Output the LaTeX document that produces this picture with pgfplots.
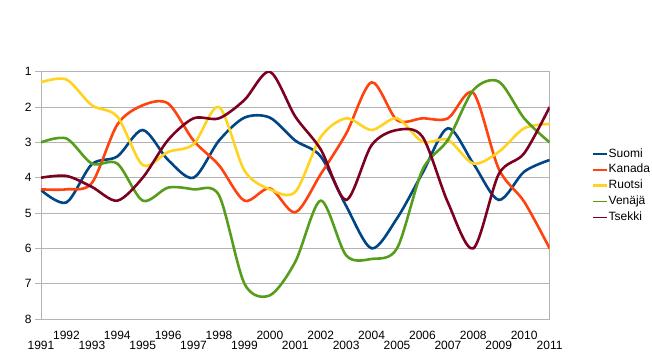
\documentclass[border=0pt]{standalone}
\usepackage{pgfplots}
\pgfplotsset{compat=1.18}
\usepackage{pgfplotstable}
\usepackage{fontspec}
\setmainfont{Liberation Sans}
\definecolor{cSuomi}{HTML}{004586}
\definecolor{cKanada}{HTML}{FF420E}
\definecolor{cRuotsi}{HTML}{FFD320}
\definecolor{cVenaja}{HTML}{579D1C}
\definecolor{cTsekki}{HTML}{7E0021}
\definecolor{gridgray}{HTML}{B3B3B3}
\pgfplotstableread{
year Suomi Kanada Ruotsi Venaja Tsekki
1991 4.35 4.33 1.30 3.00 4.00
1992 4.70 4.33 1.22 2.89 3.95
1993 3.62 4.15 1.95 3.60 4.26
1994 3.40 2.50 2.27 3.60 4.65
1995 2.65 1.95 3.64 4.65 4.00
1996 3.50 1.90 3.27 4.28 2.93
1997 4.00 2.95 3.05 4.33 2.32
1998 2.95 3.65 2.00 4.50 2.32
1999 2.30 4.65 3.80 7.00 1.80
2000 2.30 4.30 4.33 7.33 1.00
2001 2.95 4.98 4.40 6.38 2.27
2002 3.40 3.90 2.85 4.65 3.20
2003 4.80 2.75 2.32 6.20 4.63
2004 6.00 1.30 2.65 6.30 3.08
2005 5.15 2.37 2.32 6.00 2.65
2006 3.87 2.32 2.98 3.78 2.84
2007 2.60 2.32 2.93 2.93 4.70
2008 3.60 1.60 3.60 1.52 6.00
2009 4.63 3.75 3.27 1.28 3.90
2010 3.83 4.68 2.60 2.32 3.31
2011 3.50 6.00 2.48 3.00 2.00
}\datatable
\begin{document}
\begin{tikzpicture}
\useasboundingbox (0,0) rectangle (652bp,363bp);
\begin{axis}[
  at={(41bp,44bp)}, anchor=south west,
  scale only axis, width=508.6bp, height=247.3bp,
  xmin=1991, xmax=2011, ymin=1, ymax=8,
  y dir=reverse,
  ytick={1,2,...,8},
  xtick={1991,1993,...,2011},
  extra x ticks={1992,1994,...,2010},
  extra x tick style={xticklabel style={yshift=10bp}},
  xtick style={draw=none},
  tick align=outside,
  major tick length=6bp,
  ytick pos=left, xtick pos=bottom,
  ymajorgrids,
  grid style={color=gridgray, line width=0.8bp},
  axis line style={color=gridgray, line width=0.8bp},
  ytick style={color=gridgray, line width=0.8bp},
  tick label style={font=\fontsize{12bp}{14bp}\selectfont, /pgf/number format/assume math mode=true, /pgf/number format/1000 sep={}},
  xticklabel style={inner sep=0pt, anchor=north, yshift=-15.7bp},
  yticklabel style={inner sep=0pt, xshift=-3.3bp},
  legend style={at={(1.083,0.539)}, anchor=west, draw=none, fill=none,
    font=\fontsize{12bp}{14bp}\selectfont, inner sep=0pt, row sep=3bp,
    nodes={inner sep=0.8bp, text height=8.6bp, text depth=2.6bp}},
  legend cell align=left,
  every axis plot/.append style={smooth, line width=2.6bp, no markers},
]
\addplot[color=cSuomi, legend image code/.code={\draw[color=cSuomi, line width=2.6bp] (0bp,0bp) -- (13.3bp,0bp);}] table[x=year, y=Suomi] {\datatable};
\addlegendentry{Suomi}
\addplot[color=cKanada, legend image code/.code={\draw[color=cKanada, line width=2.6bp] (0bp,0bp) -- (13.3bp,0bp);}] table[x=year, y=Kanada] {\datatable};
\addlegendentry{Kanada}
\addplot[color=cRuotsi, legend image code/.code={\draw[color=cRuotsi, line width=2.6bp] (0bp,0bp) -- (13.3bp,0bp);}] table[x=year, y=Ruotsi] {\datatable};
\addlegendentry{Ruotsi}
\addplot[color=cVenaja, legend image code/.code={\draw[color=cVenaja, line width=1bp] (0bp,0bp) -- (13.3bp,0bp);}] table[x=year, y=Venaja] {\datatable};
\addlegendentry{Venäjä}
\addplot[color=cTsekki, legend image code/.code={\draw[color=cTsekki, line width=1bp] (0bp,0bp) -- (13.3bp,0bp);}] table[x=year, y=Tsekki] {\datatable};
\addlegendentry{Tsekki}
\end{axis}
\end{tikzpicture}
\end{document}
